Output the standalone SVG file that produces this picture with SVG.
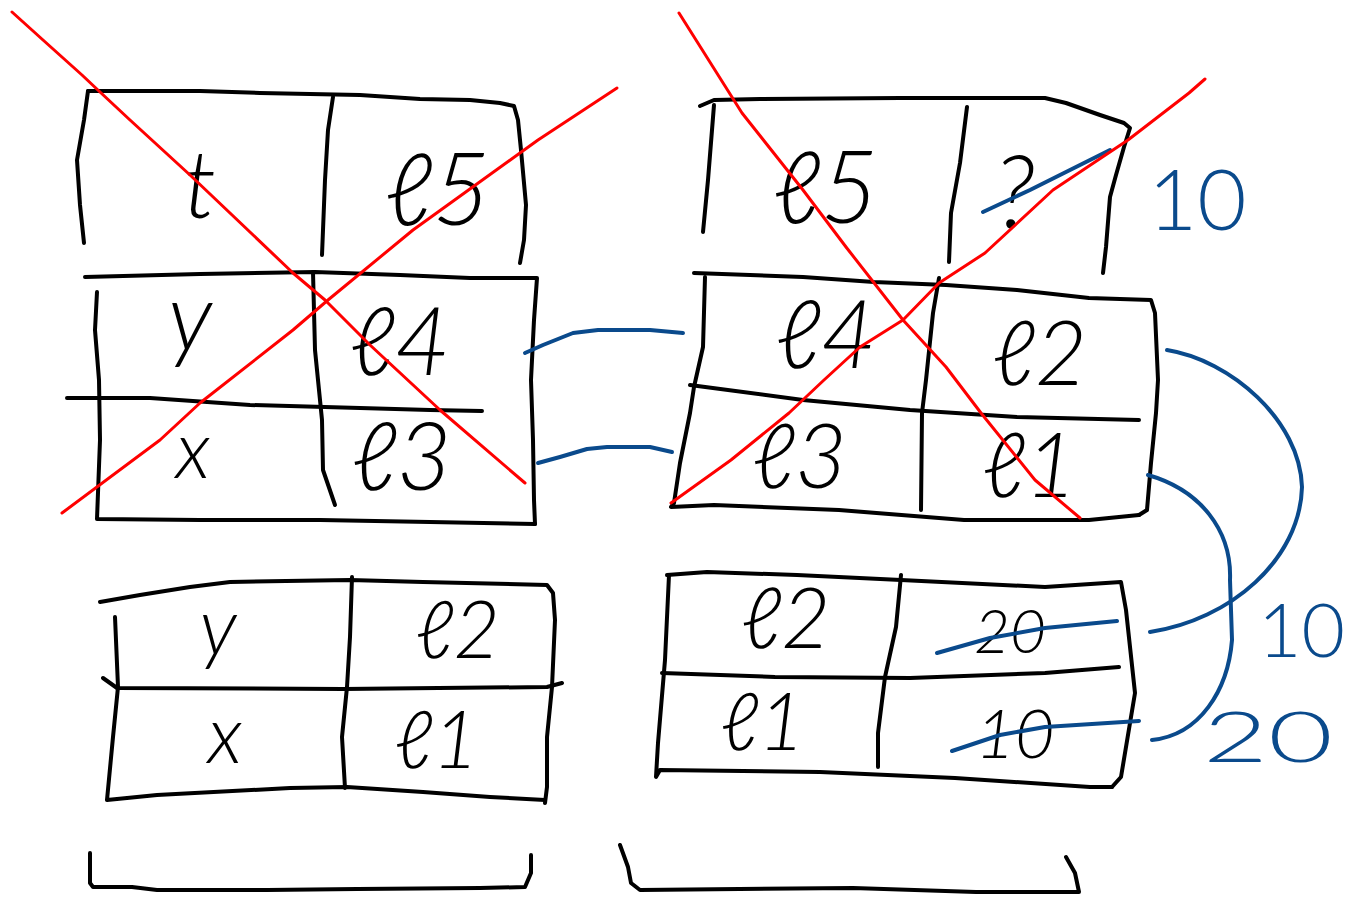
<svg xmlns="http://www.w3.org/2000/svg" width="1345" height="903" viewBox="0 0 1345 903">
<style>
.k{fill:none;stroke:#000;stroke-width:4;stroke-linecap:round;stroke-linejoin:round}
.r{fill:none;stroke:#f00;stroke-width:3;stroke-linecap:round;stroke-linejoin:round}
.b{fill:none;stroke:#0a4a8c;stroke-width:4;stroke-linecap:round;stroke-linejoin:round}
.t{font-family:"Lato","Open Sans","DejaVu Sans",sans-serif;font-weight:300;font-style:italic;fill:#000;text-anchor:middle}
.tb{font-family:"Lato","Open Sans","DejaVu Sans",sans-serif;font-weight:300;fill:#0a4a8c}
</style>
<rect width="1345" height="903" fill="#fff"/>

<g id="table-top-left">
<path class="k" d="M88,91 L84,120 L77,160 L80,205 L84,243"/>
<path class="k" d="M88,91 L200,91 L260,93 L360,95 L420,99 L470,100 L500,103 L514,106 L518,120 L521,150 L526,205 L524,240 L520,263"/>
<path class="k" d="M333,97 L328,130 L325,180 L323,230 L322,255"/>
<path class="k" d="M85,277 L200,274 L315,272 L400,275 L470,278 L537,278 L534,320 L531,380 L533,440 L534,500 L535,524"/>
<path class="k" d="M97,292 L95,330 L99,380 L100,440 L97,519 L200,520 L320,520 L430,522 L535,524"/>
<path class="k" d="M313,272 L315,350 L322,420 L323,470 L335,505"/>
<path class="k" d="M67,398 L150,398 L250,405 L360,408 L430,410 L482,411"/>
<text class="t" x="200" y="218" font-size="95">t</text>
<text class="t" x="438" y="225" font-size="100">ℓ5</text>
<text class="t" x="190" y="350" font-size="95">y</text>
<text class="t" x="400" y="375" font-size="95">ℓ4</text>
<text class="t" x="193" y="478" font-size="80">x</text>
<text class="t" x="402" y="490" font-size="95">ℓ3</text>
</g>

<g id="table-top-right">
<path class="k" d="M700,106 L714,100 L760,99 L900,98 L1045,98 L1066,103 L1100,115 L1124,123 L1130,128 L1124,147 L1116,175 L1110,197 L1106,247 L1103,273"/>
<path class="k" d="M714,105 L708,180 L703,232"/>
<path class="k" d="M967,107 L960,163 L951,213 L949,262"/>
<path class="k" d="M694,273 L803,277 L874,282 L946,285 L1017,290 L1089,298 L1151,300 L1155,313 L1158,380 L1156,413 L1151,463 L1147,510 L1139,515"/>
<path class="k" d="M705,277 L703,347 L694,387 L690,413 L680,463 L674,503 L671,507 L714,505 L839,510 L964,520 L1089,520 L1139,515"/>
<path class="k" d="M690,385 L803,400 L910,410 L1017,417 L1139,420"/>
<path class="k" d="M939,278 L933,313 L926,380 L922,413 L921,510"/>
<text class="t" x="826" y="223" font-size="100">ℓ5</text>
<text class="t" x="1015" y="228" font-size="100">?</text>
<text class="t" x="826" y="368" font-size="95">ℓ4</text>
<text class="t" x="1040" y="385" font-size="90">ℓ2</text>
<text class="t" x="800" y="488" font-size="90">ℓ3</text>
<text class="t" x="1030" y="497" font-size="90">ℓ1</text>
<path class="b" d="M983,212 L1030,190 L1070,170 L1110,150"/>
<text class="tb" x="1148" y="230" font-size="85">10</text>
</g>

<g id="table-bottom-left">
<path class="k" d="M100,602 L140,595 L190,587 L230,582 L350,580 L423,582 L547,585 L553,593 L555,620 L552,687 L547,737 L547,787 L545,803"/>
<path class="k" d="M115,617 L118,687 L113,737 L107,800 L157,795 L290,788 L347,787 L423,792 L490,797 L545,800"/>
<path class="k" d="M103,678 L117,688 L343,689 L547,687 L562,683"/>
<path class="k" d="M352,577 L350,637 L347,687 L342,737 L345,788"/>
<text class="t" x="218" y="655" font-size="80">y</text>
<text class="t" x="458" y="658" font-size="80">ℓ2</text>
<text class="t" x="225" y="763" font-size="80">x</text>
<text class="t" x="437" y="768" font-size="80">ℓ1</text>
</g>

<g id="table-bottom-right">
<path class="k" d="M667,575 L707,572 L797,575 L901,580 L1045,587 L1121,582 L1126,610 L1135,693 L1121,777 L1112,787"/>
<path class="k" d="M669,575 L665,660 L658,743 L656,777 L660,770 L820,772 L955,778 L1090,787 L1112,787"/>
<path class="k" d="M662,673 L775,677 L910,678 L1045,673 L1119,667"/>
<path class="k" d="M901,575 L896,627 L885,677 L878,733 L878,767"/>
<text class="t" x="786" y="648" font-size="85">ℓ2</text>
<text class="t" x="1010" y="653" font-size="62">20</text>
<text class="t" x="763" y="750" font-size="80">ℓ1</text>
<text class="t" x="1015" y="758" font-size="68">10</text>
<path class="b" d="M937,653 L990,638 L1045,628 L1117,621"/>
<path class="b" d="M952,751 L1000,735 L1045,727 L1139,721"/>
<text class="tb" x="1258" y="657" font-size="75">10</text>
<text class="tb" x="1203" y="762" font-size="70" textLength="130" lengthAdjust="spacingAndGlyphs">20</text>
</g>

<g id="brackets">
<path class="k" d="M90,853 L90,883 L93,887 L132,887 L157,890 L267,890 L357,889 L480,888 L525,887 L531,873 L531,855"/>
<path class="k" d="M620,845 L628,867 L631,883 L640,890 L853,888 L976,892 L1079,892 L1075,873 L1066,857"/>
</g>

<g id="crosses">
<path class="r" d="M12,12 L43,40 L82,75 L100,92 L130,120 L190,175 L293,273 L325,300 L370,345 L440,410 L525,483"/>
<path class="r" d="M617,88 L538,140 L413,230 L328,300 L293,330 L200,403 L160,440 L62,513"/>
<path class="r" d="M679,13 L742,113 L803,190 L846,247 L903,320 L946,367 L981,413 L1035,480 L1080,518"/>
<path class="r" d="M1205,79 L1189,93 L1128,140 L1053,190 L985,253 L939,283 L903,320 L860,347 L824,380 L789,413 L731,460 L671,503"/>
</g>

<g id="connectors">
<path class="b" d="M525,353 L543,345 L573,333 L598,330 L650,330 L683,333"/>
<path class="b" d="M538,463 L560,457 L587,449 L607,447 L650,447 L672,452"/>
<path class="b" d="M1167,350 C1230,360 1300,420 1302,487 C1300,560 1230,620 1150,632"/>
<path class="b" d="M1148,475 C1200,490 1232,530 1230,580 L1232,640 C1228,690 1200,735 1152,740"/>
</g>
</svg>
